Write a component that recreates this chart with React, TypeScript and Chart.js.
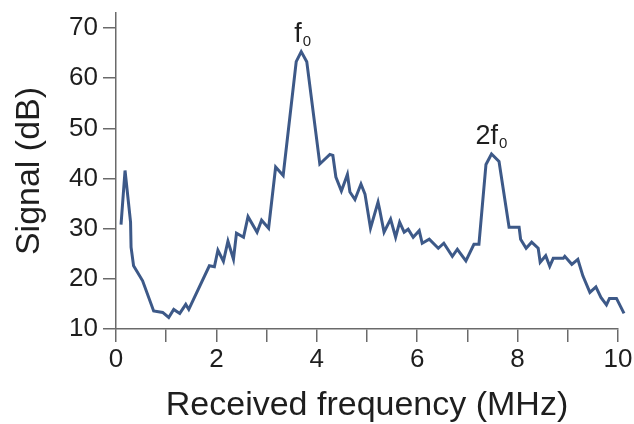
import React, { useEffect, useRef } from "react";
import { Chart, registerables } from "chart.js";

Chart.register(...registerables);

// Received frequency (MHz)
const frequencyMHz = [
  0.1, 0.18, 0.29, 0.3, 0.35, 0.53, 0.75, 0.93, 1.05, 1.15, 1.27, 1.39, 1.45,
  1.86, 1.96, 2.03, 2.14, 2.23, 2.34, 2.4, 2.54, 2.63, 2.81, 2.9, 3.04, 3.18,
  3.33, 3.59, 3.69, 3.8, 4.06, 4.26, 4.32, 4.38, 4.49, 4.61, 4.66, 4.76, 4.88,
  4.96, 5.07, 5.22, 5.25, 5.34, 5.47, 5.57, 5.65, 5.74, 5.82, 5.92, 6.04, 6.1,
  6.24, 6.42, 6.53, 6.7, 6.8, 6.97, 7.13, 7.23, 7.37, 7.48, 7.63, 7.83, 8.03,
  8.06, 8.17, 8.28, 8.41, 8.45, 8.56, 8.64, 8.71, 8.91, 8.94, 9.08, 9.2, 9.3,
  9.44, 9.56, 9.66, 9.77, 9.83, 9.97, 10.12,
];

// Signal (dB)
const signalDb = [
  30.8, 41.6, 31.3, 26.3, 22.6, 19.6, 13.6, 13.3, 12.3, 13.9, 13.1, 14.9, 13.9,
  22.6, 22.4, 25.7, 23.5, 27.5, 23.9, 29.1, 28.3, 32.4, 29.3, 31.7, 30.1, 42.3,
  40.6, 63.3, 65.3, 63.3, 42.9, 44.8, 44.6, 40.3, 37.5, 40.8, 37.3, 35.8, 38.9,
  36.9, 30.1, 35.3, 33.9, 29.3, 31.9, 28.3, 31.3, 29.3, 29.9, 28.3, 29.6, 27.1,
  27.9, 26.1, 27.1, 24.5, 25.9, 23.6, 26.9, 26.9, 42.8, 44.9, 43.4, 30.3, 30.3,
  27.9, 26.1, 27.3, 26.1, 23.3, 24.6, 22.5, 24.1, 24.1, 24.5, 22.9, 23.9, 20.6,
  17.3, 18.4, 16.3, 14.8, 16.1, 16.1, 13.1,
];

const xTickLabels = [0, 2, 4, 6, 8, 10];
const yTickLabels = [10, 20, 30, 40, 50, 60, 70];

// Peak annotations: main text + subscript, anchored in data units
const peakText = ["f", "2f"];
const peakSub = ["0", "0"];
const peakFreq = [3.72, 7.48];
const peakDb = [67.2, 46.8];

const FONT = '"Liberation Sans", Arial, Helvetica, sans-serif';
const LINE_COLOR = "#3d5988";
const AXIS_COLOR = "#6a6a6a";
const TEXT_COLOR = "#1e1e1e";

const peakLabelPlugin = {
  id: "peakLabels",
  afterDatasetsDraw(chart: any) {
    const { ctx, scales } = chart;
    const xs = scales.x;
    const ys = scales.y;
    ctx.save();
    ctx.fillStyle = TEXT_COLOR;
    ctx.textAlign = "left";
    ctx.textBaseline = "alphabetic";
    const big = `27px ${FONT}`;
    const small = `15px ${FONT}`;
    peakText.forEach((txt, i) => {
      const px = xs.getPixelForValue(peakFreq[i]);
      const py = ys.getPixelForValue(peakDb[i]);
      ctx.font = big;
      const w1 = ctx.measureText(txt).width;
      ctx.font = small;
      const w2 = ctx.measureText(peakSub[i]).width;
      const left = px - (w1 + w2 + 1) / 2;
      ctx.font = big;
      ctx.fillText(txt, left, py);
      ctx.font = small;
      ctx.fillText(peakSub[i], left + w1 + 1, py + 4);
    });
    ctx.restore();
  },
};

export default function App() {
  const canvasRef = useRef<HTMLCanvasElement>(null);

  useEffect(() => {
    const canvas = canvasRef.current;
    if (!canvas) return;
    const points = frequencyMHz.map((f, i) => ({ x: f, y: signalDb[i] }));
    const chart = new Chart(canvas, {
      type: "line",
      data: {
        datasets: [
          {
            data: points,
            borderColor: LINE_COLOR,
            borderWidth: 3,
            pointRadius: 0,
            tension: 0,
            fill: false,
            clip: false as any,
            borderJoinStyle: "miter",
          },
        ],
      },
      options: {
        animation: false,
        responsive: false,
        layout: { padding: { top: 13, right: 16, left: 0, bottom: 0 } },
        plugins: {
          legend: { display: false },
          tooltip: { enabled: false },
        },
        scales: {
          x: {
            type: "linear",
            min: 0,
            max: 10,
            afterFit: (s: any) => {
              s.height = 95;
              s.paddingLeft = 0;
              s.paddingRight = 0;
            },
            ticks: {
              stepSize: 1,
              autoSkip: false,
              maxRotation: 0,
              padding: 2,
              color: TEXT_COLOR,
              font: { family: FONT, size: 26 },
              callback: (v: any) =>
                xTickLabels.includes(Number(v)) ? String(v) : "",
            },
            grid: {
              drawOnChartArea: false,
              drawTicks: true,
              tickLength: 13,
              color: AXIS_COLOR,
              lineWidth: 1.5,
            },
            border: { display: true, color: AXIS_COLOR, width: 1.5 },
            title: {
              display: true,
              text: "Received frequency (MHz)",
              color: TEXT_COLOR,
              font: { family: FONT, size: 34, lineHeight: 1.1 },
              padding: { top: 0, bottom: 0 },
            },
          },
          y: {
            type: "linear",
            min: 10,
            max: 73,
            afterFit: (s: any) => {
              s.width = 116;
              s.paddingTop = 0;
              s.paddingBottom = 0;
            },
            ticks: {
              stepSize: 10,
              includeBounds: false,
              padding: 5,
              color: TEXT_COLOR,
              font: { family: FONT, size: 26 },
              callback: (v: any) =>
                yTickLabels.includes(Number(v)) ? String(v) : "",
            },
            grid: {
              drawOnChartArea: false,
              drawTicks: true,
              tickLength: 13,
              color: AXIS_COLOR,
              lineWidth: 1.5,
            },
            border: { display: true, color: AXIS_COLOR, width: 1.5 },
            title: {
              display: true,
              text: "Signal (dB)",
              color: TEXT_COLOR,
              font: { family: FONT, size: 34, lineHeight: 1.1 },
              padding: { top: 11, bottom: 0 },
            },
          },
        },
      },
      plugins: [peakLabelPlugin],
    });
    return () => chart.destroy();
  }, []);

  return (
    <div
      style={{
        position: "fixed",
        left: 0,
        top: 0,
        width: 634,
        height: 424,
        background: "#ffffff",
      }}
    >
      <canvas
        ref={canvasRef}
        width={634}
        height={424}
        style={{ width: 634, height: 424, display: "block" }}
      />
    </div>
  );
}
